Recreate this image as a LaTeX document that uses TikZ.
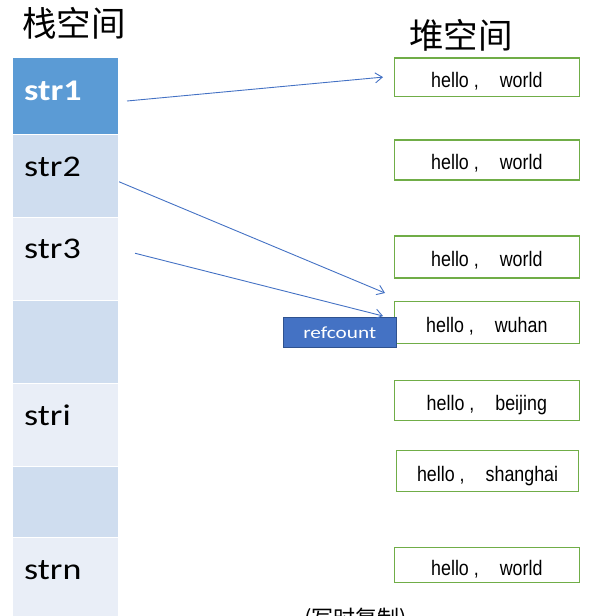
\documentclass[tikz,border=0pt]{standalone}
\usepackage{fontspec}
\newfontfamily\cjkfont{Noto Sans CJK SC}
\newfontfamily\stackfont[FakeStretch=1.2]{Carlito}
\newfontfamily\heapfont[FakeStretch=0.85]{Liberation Sans}
\newfontfamily\reffont[FakeStretch=1.25]{Carlito}
\usetikzlibrary{arrows.meta}
\definecolor{stackdark}{HTML}{5B9BD5}
\definecolor{stackmid}{HTML}{CFDDEF}
\definecolor{stacklight}{HTML}{E9EEF7}
\definecolor{heapgreen}{HTML}{70AD47}
\definecolor{refblue}{HTML}{4472C4}
\definecolor{refborder}{HTML}{2F528F}
\definecolor{arrowblue}{HTML}{4472C4}
\tikzset{>={Straight Barb[length=7pt,width=10pt]}}
\tikzset{
    cell/.style={anchor=north west, minimum width=105pt, inner sep=0pt, outer sep=0pt},
    celltext/.style={anchor=base west, inner sep=0pt, font=\stackfont\fontsize{30pt}{36pt}\selectfont},
    heapbox/.style={draw=heapgreen, line width=1.2pt, anchor=north west, inner sep=0pt,
        text height=20pt, text depth=0pt, font=\heapfont\fontsize{21pt}{25pt}\selectfont},
    title/.style={anchor=base west, inner sep=0pt, font=\cjkfont\fontsize{34.5pt}{40pt}\selectfont},
    link/.style={->, draw=arrowblue, line width=0.9pt}
}

\begin{document}
\begin{tikzpicture}[x=1pt,y=-1pt]
    \useasboundingbox (0,0) rectangle (597,616);
    \node[title] (stacktitle) at (22,36) {栈空间};
    \node[title] (heaptitle) at (409,48) {堆空间};
    \node[cell, fill=stackdark, minimum height=76pt] (c1) at (13,58) {};
    \foreach \n/\y/\h/\col in {2/135/81.5/stackmid, 3/217.5/82.5/stacklight, 4/301/82/stackmid,
        5/384/82/stacklight, 6/467/70/stackmid, 7/538/82/stacklight}
        \node[cell, fill=\col, minimum height=\h pt] (c\n) at (13,\y) {};
    \node[celltext, text=white, font=\stackfont\fontsize{30pt}{36pt}\selectfont\bfseries] (t1)
        at ([xshift=11pt,yshift=-42pt]c1.north west) {str1};
    \foreach \n/\txt in {2/str2, 3/str3, 5/stri, 7/strn}
        \node[celltext] (t\n) at ([xshift=11pt,yshift=-41pt]c\n.north west) {\txt};
    \foreach \n/\x/\y/\w/\h/\word in {1/394/57.3/184.5/38.4/world, 2/394/139.3/184.5/40/world,
        3/394/235.3/184.5/42/world, 4/394/301/184.5/41.5/wuhan, 5/394/380/184.5/40/beijing,
        6/396/450/182/41/shanghai, 7/394/547/184.5/35/world}
        \node[heapbox, minimum width=\w pt, minimum height=\h pt] (h\n) at (\x,\y)
            {hello ,\hspace{21pt}\word};
    \node[anchor=north west, fill=refblue, draw=refborder, line width=1pt, minimum width=112.5pt,
        minimum height=30pt, inner sep=0pt, text=white,
        font=\reffont\fontsize{17pt}{20pt}\selectfont] (ref) at (283,317) {refcount};
    \draw[link] ([xshift=9pt,yshift=-5pt]c1.east) -- ([xshift=-11pt]h1.west);
    \draw[link] ([xshift=1pt,yshift=-6pt]c2.east) -- ([xshift=-9pt,yshift=8pt]h4.north west);
    \draw[link] ([xshift=17pt,yshift=5.5pt]c3.east) -- ([xshift=-13.5pt,yshift=1pt]ref.north east);
    \node[anchor=base west, inner sep=0pt, font=\cjkfont\fontsize{22pt}{26pt}\selectfont] (note)
        at (304,626) {(写时复制)};
\end{tikzpicture}
\end{document}
